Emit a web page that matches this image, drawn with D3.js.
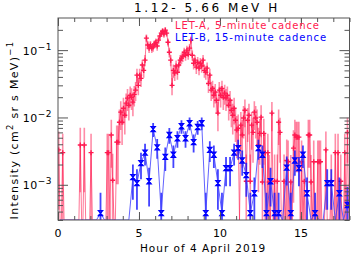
<!DOCTYPE html>
<html>
<head>
<meta charset="utf-8">
<script src="https://cdn.jsdelivr.net/npm/d3@7"></script>
<style>
  body { margin: 0; background: #fff; }
  svg { display: block; }
  text { font-family: "DejaVu Sans", sans-serif; }
</style>
</head>
<body>
<svg id="chart" width="351" height="256"></svg>
<script>
// LET-A, 5-minute cadence intensities (one row per hour, 12 values)
let letA = [
  0.0033, 0, 0, 0.0030, 0, 0, 0, 0, 0, 0, 0, 0,
  0, 0, 0, 0, 0.0039, 0, 0, 0.0039, 0, 0, 0, 0,
  0.0030, 0, 0, 0, 0, 0, 0, 0, 0, 0, 0, 0,
  0.0030, 0.0030, 0, 0.0055, 0.00117, 0, 0, 0.0043, 0.0043, 0.0085, 0.012, 0.0085,
  0.0137, 0.0108, 0.0163, 0.0194, 0.0152, 0.0214, 0.020, 0.0169, 0.022, 0.0255, 0.0425, 0.030,
  0.0425, 0.038, 0.060, 0.050, 0.071, 0.151, 0.119, 0.107, 0.119, 0.107, 0.111, 0.123,
  0.131, 0.115, 0.141, 0.162, 0.179, 0.191, 0.173, 0.198, 0.179, 0.131, 0.093, 0.071,
  0.030, 0.050, 0.0455, 0.058, 0.047, 0.060, 0.071, 0.076, 0.081, 0.093, 0.084, 0.100,
  0.087, 0.107, 0.141, 0.084, 0.064, 0.071, 0.056, 0.066, 0.054, 0.064, 0.058, 0.071,
  0.050, 0.047, 0.054, 0.032, 0.0425, 0.0255, 0.027, 0.0214, 0.0238, 0.018, 0.0116, 0.0255,
  0.0214, 0.027, 0.020, 0.023, 0.0194, 0.0214, 0.0152, 0.018, 0.0128, 0.0108, 0.0137, 0.0091,
  0.0065, 0.0069, 0, 0.0077, 0.0055, 0.0098, 0.0128, 0.00113, 0.0091, 0.0108, 0.00113, 0.0077,
  0.0060, 0.012, 0.0098, 0.0085, 0.0039, 0.0058, 0.0101, 0.0011, 0.0058, 0.0030, 0, 0.0030,
  0.0011, 0, 0.0116, 0, 0.00113, 0, 0.00113, 0.0085, 0.0060, 0, 0, 0.00113,
  0, 0.0023, 0.0022, 0, 0.0011, 0, 0.0035, 0.0055, 0.0051, 0.0051, 0.0051, 0,
  0.0022, 0, 0.00113, 0, 0, 0.0055, 0.0055, 0.0011, 0, 0.0022, 0, 0,
  0.0022, 0.0022, 0.0022, 0, 0, 0, 0.0033, 0, 0, 0, 0.00113, 0,
  0, 0.0030, 0, 0.0030, 0, 0.00113, 0, 0, 0.0030, 0, 0.0060, 0
]

// LET-B, 15-minute cadence intensities (one row per hour, 4 values)
let letB = [
  0, 0, 0, 0,
  0, 0, 0, 0,
  0, 0, 0.00038, 0,
  0, 0, 0, 0,
  0, 0, 0.0013, 0.00106,
  0.0021, 0.0030, 0.00113, 0.0067,
  0.0036, 0.00038, 0.0026, 0.0055,
  0.0028, 0.0049, 0.0074, 0.0049,
  0.0082, 0.0043, 0.0072, 0.0082,
  0.00038, 0.0033, 0.0028, 0.00106,
  0.00038, 0.00177, 0.00177, 0.0030,
  0.0035, 0.0023, 0.00139, 0.00038,
  0.00075, 0.0035, 0.0028, 0.00038,
  0.00113, 0.00038, 0.00038, 0,
  0.0018, 0.00038, 0.0023, 0.00177,
  0.0028, 0.00075, 0, 0.00038,
  0, 0, 0.00106, 0.00106,
  0, 0.00075, 0, 0.0005
]

let cadenceA = 5 / 60   // hours
let cadenceB = 15 / 60
// intensity of roughly one count, used for counting-statistics error bars
let countA = 0.0025
let countB = 0.00038

let xTicksMajor = [0, 5, 10, 15]
let xTicksMinor = d3.range(0, 19)
let yTicksMajor = [1e-3, 1e-2, 1e-1]
let yTickLabels = ["\u22123", "\u22122", "\u22121"]

let red = "#ff1a50"
let blue = "#0000ff"

let svg = d3.select("#chart")
let margin = { top: 18, right: 1.5, bottom: 36, left: 58 }
let width = 351, height = 256

let x = d3.scaleLinear()
  .domain([0, 18])
  .range([margin.left, width - margin.right])

let y = d3.scaleLog()
  .domain([3e-4, 0.3])
  .range([height - margin.bottom, margin.top])

let bottom = y.range()[0]
let yPos = v => v > 0 ? y(v) : bottom

let seriesA = letA.map((v, i) => ({ t: (i + 0.5) * cadenceA, v: v, e: Math.sqrt(v * countA) }))
let seriesB = letB.map((v, i) => ({ t: (i + 0.5) * cadenceB, v: v, e: Math.sqrt(v * countB) }))

svg.append("clipPath").attr("id", "plotclip")
  .append("rect")
  .attr("x", margin.left).attr("y", margin.top)
  .attr("width", x.range()[1] - margin.left)
  .attr("height", bottom - margin.top)

let plot = svg.append("g").attr("clip-path", "url(#plotclip)")

let line = d3.line()
  .x(d => x(d.t))
  .y(d => yPos(d.v))

function drawSeries(data, color, barColor, barWidth, lineColor, marker) {
  // error bars
  plot.append("g")
    .selectAll("line")
    .data(data.filter(d => d.v > 0))
    .join("line")
    .attr("x1", d => x(d.t))
    .attr("x2", d => x(d.t))
    .attr("y1", d => d.v - d.e > 0 ? y(d.v - d.e) : bottom + 5)
    .attr("y2", d => y(d.v + d.e))
    .style("stroke", barColor)
    .style("stroke-width", barWidth)

  plot.append("path")
    .attr("d", line(data))
    .style("fill", "none")
    .style("stroke", lineColor)
    .style("stroke-width", 1)

  plot.append("g")
    .selectAll("path")
    .data(data.filter(d => d.v > 0))
    .join("path")
    .attr("transform", d => `translate(${x(d.t)},${y(d.v)})`)
    .attr("d", marker)
    .style("fill", "none")
    .style("stroke", color)
    .style("stroke-width", 1.4)
}

drawSeries(seriesA, red, "rgba(255,26,80,0.5)", 1.6, "rgba(255,26,80,0.6)", "M-2.5,0H2.5M0,-2.5V2.5")
drawSeries(seriesB, blue, "rgba(20,20,255,0.8)", 1.8, "rgba(70,70,255,0.85)", "M-2,-2.5H2L-2,2.5H2Z")

// axes, ticks pointing inward on all four sides
let axisColor = "#555"
let yMinor = []
yTicksMajor.concat([1e-4]).forEach(p => d3.range(2, 10).forEach(m => {
  let v = p * m
  if (v >= 3e-4 && v <= 0.3 && yTicksMajor.indexOf(v) < 0) yMinor.push(v)
}))

function ticks(axis, values, size, transform) {
  let g = svg.append("g")
    .attr("transform", transform)
    .call(axis.tickValues(values).tickSize(size).tickFormat(""))
  g.select(".domain").remove()
  g.selectAll("line").style("stroke", axisColor)
}

ticks(d3.axisRight(y), yTicksMajor, 10, `translate(${margin.left},0)`)
ticks(d3.axisRight(y), yMinor, 5, `translate(${margin.left},0)`)
ticks(d3.axisLeft(y), yTicksMajor, 10, `translate(${x.range()[1]},0)`)
ticks(d3.axisLeft(y), yMinor, 5, `translate(${x.range()[1]},0)`)
ticks(d3.axisTop(x), xTicksMajor, 8, `translate(0,${bottom})`)
ticks(d3.axisTop(x), xTicksMinor, 4, `translate(0,${bottom})`)
ticks(d3.axisBottom(x), xTicksMajor, 8, `translate(0,${margin.top})`)
ticks(d3.axisBottom(x), xTicksMinor, 4, `translate(0,${margin.top})`)

svg.append("rect")
  .attr("x", margin.left).attr("y", margin.top)
  .attr("width", x.range()[1] - margin.left)
  .attr("height", bottom - margin.top)
  .style("fill", "none")
  .style("stroke", axisColor)
  .style("stroke-width", 1)

// tick labels
svg.append("g")
  .selectAll("text")
  .data(xTicksMajor)
  .join("text")
  .attr("x", d => x(d))
  .attr("y", bottom + 17)
  .attr("text-anchor", "middle")
  .style("font-size", "11px")
  .text(d => d)

let yLab = svg.append("g")
  .selectAll("text")
  .data(yTicksMajor)
  .join("text")
  .attr("x", 52)
  .attr("y", d => y(d) + 4.5)
  .attr("text-anchor", "end")
  .style("font-size", "11px")
  .style("letter-spacing", "0.5px")
yLab.append("tspan").text("10")
yLab.append("tspan")
  .attr("dy", -5)
  .style("font-size", "9px")
  .text((d, i) => yTickLabels[i])

// title, axis titles, legend
svg.append("text")
  .attr("x", 207).attr("y", 11.5)
  .attr("text-anchor", "middle")
  .style("font-size", "12px")
  .style("letter-spacing", "2.6px")
  .text("1.12- 5.66 MeV H")

svg.append("text")
  .attr("x", 203).attr("y", 251.5)
  .attr("text-anchor", "middle")
  .style("font-size", "10.5px")
  .style("letter-spacing", "1px")
  .text("Hour of 4 April 2019")

let yTitle = svg.append("text")
  .attr("transform", "translate(18,130) rotate(-90)")
  .attr("text-anchor", "middle")
  .style("font-size", "11px")
  .style("letter-spacing", "1.3px")
yTitle.append("tspan").text("Intensity (cm")
yTitle.append("tspan").attr("dy", -5).style("font-size", "8.5px").text("2")
yTitle.append("tspan").attr("dy", 5).text(" sr s MeV)")
yTitle.append("tspan").attr("dy", -5).style("font-size", "8.5px").text("\u22121")

svg.append("text")
  .attr("x", 175).attr("y", 29)
  .style("font-size", "10px")
  .style("letter-spacing", "0.9px")
  .style("fill", red)
  .text("LET-A, 5-minute cadence")

svg.append("text")
  .attr("x", 175).attr("y", 40.5)
  .style("font-size", "10px")
  .style("letter-spacing", "0.9px")
  .style("fill", blue)
  .text("LET-B, 15-minute cadence")
</script>
</body>
</html>
